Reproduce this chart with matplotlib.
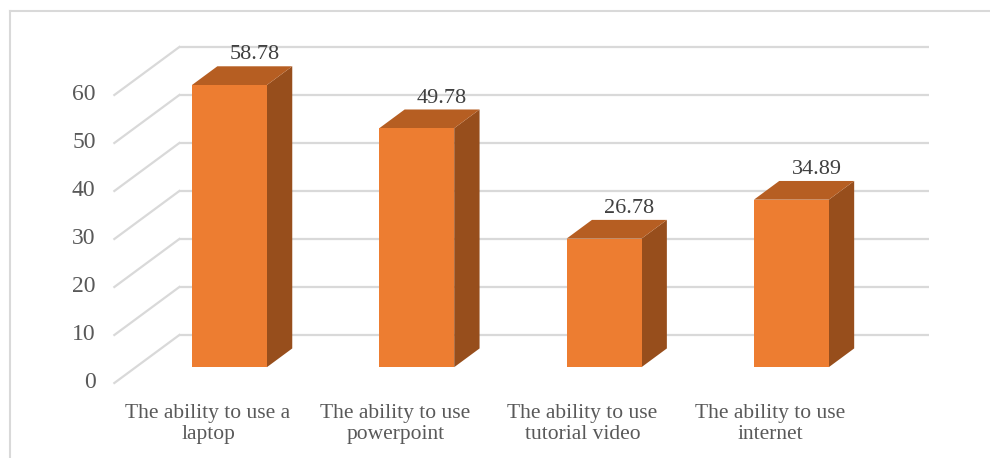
import matplotlib
matplotlib.use('Agg')
import matplotlib.pyplot as plt
from matplotlib.patches import Polygon

# chart data
categories = ['The ability to use a\nlaptop', 'The ability to use\npowerpoint',
              'The ability to use\ntutorial video', 'The ability to use\ninternet']
values = [58.78, 49.78, 26.78, 34.89]
ticks = [0, 10, 20, 30, 40, 50, 60]

# oblique "3d" look: depth offset of the back wall in (category, value) units
DX = 0.347
DY = 10.0
D0, D1 = 0.33, 0.72     # front / back depth of the columns
HALF = 0.2              # half column width

FRONT = '#ED7D31'
TOP = '#B65E22'
SIDE = '#974E1C'
GRID = '#D9D9D9'
TEXT = '#595959'

plt.rcParams['font.family'] = ['Liberation Serif', 'DejaVu Serif']

fig = plt.figure(figsize=(9.9, 4.58), dpi=100)
ax = fig.add_axes([0, 0, 1, 1])
ax.set_xlim(-1.1105, 4.175)
ax.set_ylim(-15.625, 79.79)
ax.axis('off')

n = len(categories)
left, right = -0.5, n - 0.5

# back wall and side wall gridlines
for t in ticks:
    ax.plot([left + DX, right + DX], [t + DY, t + DY], color=GRID, lw=1.6,
            solid_capstyle='butt', zorder=1)
    ax.plot([left, left + DX], [t, t + DY], color=GRID, lw=1.6, zorder=1)
    ax.text(left - 0.1, t, str(t), ha='right', va='center', fontsize=17, color=TEXT)

# columns
for i, v in enumerate(values):
    x0 = i - HALF + D0 * DX
    x1 = i + HALF + D0 * DX
    y0 = D0 * DY
    ddx = (D1 - D0) * DX
    ddy = (D1 - D0) * DY
    front = [(x0, y0), (x1, y0), (x1, y0 + v), (x0, y0 + v)]
    top = [(x0, y0 + v), (x1, y0 + v), (x1 + ddx, y0 + v + ddy), (x0 + ddx, y0 + v + ddy)]
    side = [(x1, y0), (x1 + ddx, y0 + ddy), (x1 + ddx, y0 + v + ddy), (x1, y0 + v)]
    ax.add_patch(Polygon(side, closed=True, facecolor=SIDE, edgecolor='none', zorder=3))
    ax.add_patch(Polygon(top, closed=True, facecolor=TOP, edgecolor='none', zorder=3))
    ax.add_patch(Polygon(front, closed=True, facecolor=FRONT, edgecolor='none', zorder=4))
    ax.text(i + D1 * DX, v + D1 * DY + 0.4, f'{v:.2f}', ha='center', va='bottom',
            fontsize=16, color='#404040', zorder=5)
    ax.text(i, -4.4, categories[i], ha='center', va='top', fontsize=15.5,
            color=TEXT, linespacing=1.15)

# chart border (top and left edges)
fig.add_artist(plt.Line2D([9.5 / 990, 1], [1 - 10.5 / 458, 1 - 10.5 / 458],
                          transform=fig.transFigure, color=GRID, lw=1.5))
fig.add_artist(plt.Line2D([9.5 / 990, 9.5 / 990], [0, 1 - 10.5 / 458],
                          transform=fig.transFigure, color=GRID, lw=1.5))

fig.savefig('out.png', dpi=100)
